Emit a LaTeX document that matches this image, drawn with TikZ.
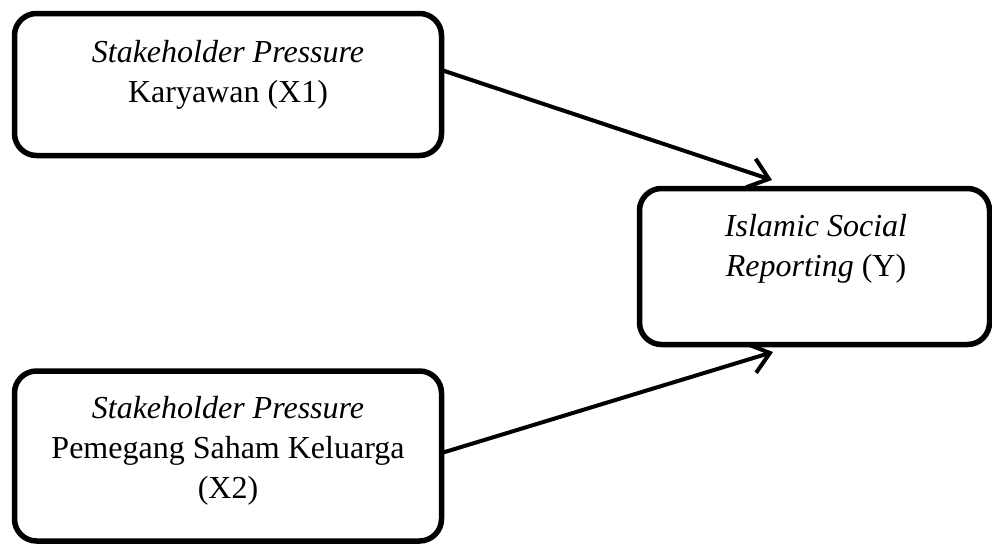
\documentclass[tikz,border=0pt]{standalone}
\usepackage{fontspec}
\setmainfont{Liberation Serif}
\usetikzlibrary{arrows.meta}
\begin{document}
\begin{tikzpicture}[x=1pt,y=-1pt,
  box/.style={draw=black, line width=5.5pt, rounded corners=22pt, inner sep=0pt, outer sep=0pt},
  lbl/.style={anchor=base, inner sep=0pt, font=\fontsize{32}{40}\selectfont},
  conn/.style={draw=black, line width=4pt, -{Straight Barb[length=19pt, width=30pt, line width=4pt]}}]
\useasboundingbox (0,0) rectangle (992,544);
\node[box, minimum width=427pt, minimum height=142pt] (x1) at (228,84.5) {};
\node[box, minimum width=350pt, minimum height=156pt] (y) at (814.5,266.5) {};
\node[box, minimum width=427pt, minimum height=170pt] (x2) at (228,456) {};
\node[lbl] (x1a) at (228,62) {\textit{Stakeholder Pressure}};
\node[lbl] (x1b) at (228,102) {Karyawan (X1)};
\node[lbl] (ya) at (816,236) {\textit{Islamic Social}};
\node[lbl] (yb) at (816,276) {\textit{Reporting} (Y)};
\node[lbl] (x2a) at (228,418) {\textit{Stakeholder Pressure}};
\node[lbl] (x2b) at (228,458) {Pemegang Saham Keluarga};
\node[lbl] (x2c) at (228,498) {(X2)};
\draw[conn] ([yshift=14.5pt]x1.east) -- ([xshift=-42.5pt,yshift=8.5pt]y.north);
\draw[conn] ([yshift=3pt]x2.east) -- ([xshift=-41.5pt,yshift=-7.5pt]y.south);
\end{tikzpicture}
\end{document}
